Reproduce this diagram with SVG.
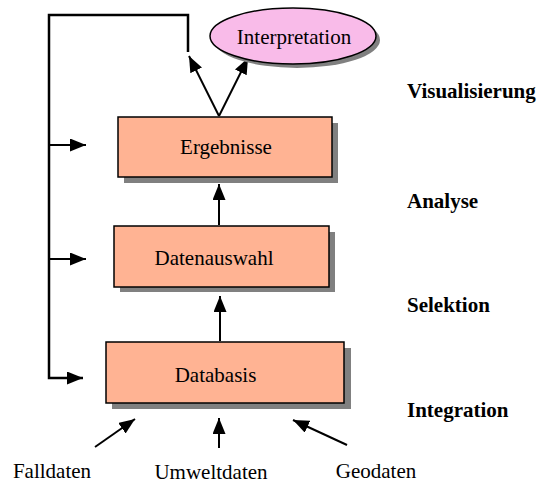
<svg xmlns="http://www.w3.org/2000/svg" width="539" height="484" viewBox="0 0 539 484">
<style>
.box{fill:#FFB393;stroke:#000;stroke-width:1.5}
.shadow{fill:#808080}
.ell{fill:#F9BBE9;stroke:#000;stroke-width:1.5}
.t{font-family:"Liberation Serif","Times New Roman",serif;font-size:21px;fill:#000}
.b{font-family:"Liberation Serif","Times New Roman",serif;font-size:21px;font-weight:bold;fill:#000}
.c{fill:none;stroke:#000;stroke-width:2}
.fb{fill:none;stroke:#000;stroke-width:2.5}
</style>
<defs>
<marker id="ah" markerUnits="userSpaceOnUse" markerWidth="17" markerHeight="13" refX="16" refY="6.5" orient="auto">
<path d="M0,0 L16,6.5 L0,13 z" fill="#000"/>
</marker>
</defs>
<rect width="539" height="484" fill="#fff"/>
<g id="connectors">
<path class="fb" d="M188,52 V15 H49 V378 H83" marker-end="url(#ah)"/>
<line class="c" x1="50" y1="145" x2="86" y2="145" marker-end="url(#ah)"/>
<line class="c" x1="50" y1="259" x2="86" y2="259" marker-end="url(#ah)"/>
<line class="c" x1="219" y1="116" x2="189" y2="56" marker-end="url(#ah)"/>
<line class="c" x1="219" y1="116" x2="248" y2="58" marker-end="url(#ah)"/>
<line class="c" x1="219" y1="225" x2="219" y2="184" marker-end="url(#ah)"/>
<line class="c" x1="220" y1="341" x2="220" y2="296" marker-end="url(#ah)"/>
<line class="c" x1="95" y1="447" x2="135" y2="419" marker-end="url(#ah)"/>
<line class="c" x1="219" y1="448" x2="219" y2="418" marker-end="url(#ah)"/>
<line class="c" x1="347" y1="445" x2="293" y2="420" marker-end="url(#ah)"/>
</g>
<g id="interpretation">
<ellipse class="shadow" cx="297" cy="40" rx="83" ry="28"/>
<ellipse class="ell" cx="293" cy="36" rx="83" ry="28"/>
<text class="t" x="294" y="44" text-anchor="middle">Interpretation</text>
</g>
<g id="ergebnisse">
<rect class="shadow" x="124" y="123" width="214" height="60"/>
<rect class="box" x="118" y="117" width="214" height="60"/>
<text class="t" x="226" y="154" text-anchor="middle">Ergebnisse</text>
</g>
<g id="datenauswahl">
<rect class="shadow" x="120" y="232" width="215" height="60"/>
<rect class="box" x="114" y="226" width="215" height="61"/>
<text class="t" x="214" y="265" text-anchor="middle">Datenauswahl</text>
</g>
<g id="databasis">
<rect class="shadow" x="112" y="348" width="239" height="61"/>
<rect class="box" x="106" y="342" width="238" height="61"/>
<text class="t" x="215.5" y="382" text-anchor="middle">Databasis</text>
</g>
<g id="labels">
<text class="b" x="407" y="98">Visualisierung</text>
<text class="b" x="407" y="208">Analyse</text>
<text class="b" x="407" y="312">Selektion</text>
<text class="b" x="407" y="417">Integration</text>
</g>
<g id="sources">
<text class="t" x="52" y="478" text-anchor="middle">Falldaten</text>
<text class="t" x="211" y="479" text-anchor="middle">Umweltdaten</text>
<text class="t" x="376" y="478" text-anchor="middle">Geodaten</text>
</g>
</svg>
